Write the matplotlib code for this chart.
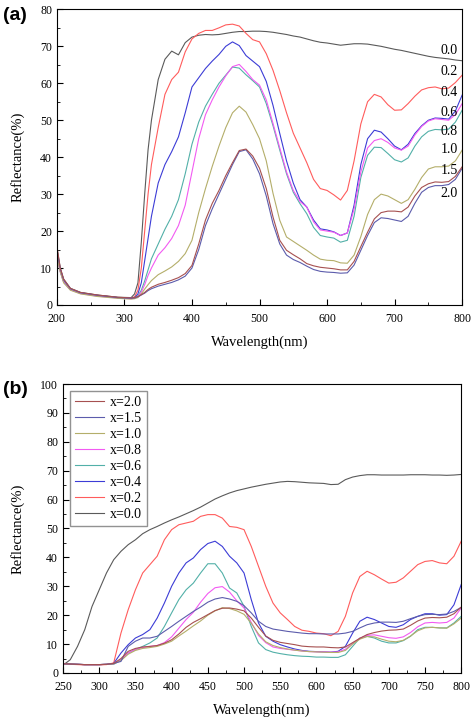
import matplotlib.pyplot as plt
from matplotlib.ticker import MultipleLocator

# ---- panel (a) data ----
wl_a = [200, 205, 210, 220, 235, 260, 290, 310, 315, 320, 325, 330, 335, 340,
        350, 360, 370, 380, 390, 400, 410, 420, 430, 440, 450, 460, 470, 480,
        490, 500, 510, 520, 530, 540, 550, 560, 570, 580, 590, 600, 610, 620,
        630, 640, 650, 660, 670, 680, 690, 700, 710, 720, 730, 740, 750, 760,
        770, 780, 790, 800]

a_00 = [15.5, 10, 7, 4.5, 3.4, 2.7, 2.1, 2.0, 3, 6, 17, 30, 42, 50,
        61, 66.5, 68.7, 67.7, 71, 72.5, 73, 73.2, 73.1, 73.2, 73.5, 73.8, 74, 74,
        74.1, 74.1, 74, 73.8, 73.5, 73.2, 72.8, 72.5, 72, 71.5, 71.1, 70.9, 70.6, 70.3,
        70.5, 70.7, 70.7, 70.6, 70.3, 70, 69.6, 69.2, 68.9, 68.5, 68.1, 67.7, 67.3, 67,
        66.8, 66.6, 66.3, 66.1]
a_02 = [14, 9.5, 6.5, 4.3, 3.3, 2.6, 2.0, 1.9, 2.2, 4, 10, 20, 30, 38,
        48, 57, 61, 63, 68.5, 72, 73.5, 74.3, 74.3, 75, 75.8, 76, 75.5, 73.5,
        71.8, 71.2, 68, 63.5, 58, 52, 46.5, 42.5, 38.5, 34, 31.5, 31, 29.8, 28.4,
        31, 39, 49, 55, 57, 56.3, 54.2, 52.7, 52.8, 54.5, 56.5, 58.2, 58.8, 59,
        58.5, 58.7, 60.2, 62.2]
a_04 = [14, 9.5, 6.5, 4.3, 3.3, 2.6, 2.0, 1.9, 2, 3, 6, 12, 18, 24,
        33, 38, 41.5, 45.5, 52, 59, 61.5, 64, 66, 67.8, 70, 71.2, 70.2, 67.5,
        66, 64.5, 60.5, 54, 46.4, 39, 33, 28.5, 26.5, 23, 20.6, 20.3, 19.8, 18.8,
        19.5, 27, 38, 45, 47.3, 46.8, 45, 43, 42, 43.5, 46.4, 48.5, 50, 50.6,
        50.5, 50.3, 52.5, 56.8]
a_06 = [13.5, 9, 6.3, 4.2, 3.2, 2.5, 2.0, 1.8, 1.9, 2.5, 4, 6.5, 9.5, 12.5,
        16.5, 20.5, 24, 28.5, 35.5, 43.5, 49.5, 53.8, 57, 60, 62.2, 64.4, 64.1, 62.3,
        60.7, 59, 54.5, 48.5, 41.9, 35.5, 30.5, 27.4, 24.7, 21, 18.8, 18.4, 18.1, 17,
        17.5, 24, 34.5, 40.5, 42.7, 42.6, 41, 39.3, 38.7, 39.8, 43, 45.5, 47, 47.5,
        47.4, 47.6, 49.5, 52.7]
a_08 = [13, 9, 6.2, 4.1, 3.1, 2.4, 1.9, 1.7, 1.8, 2.3, 3.5, 5.5, 8, 10,
        13.5, 15.5, 18, 21.5, 27, 36, 45, 51.5, 55.5, 59, 62, 64.5, 65.1, 63.2,
        61, 59.5, 55.5, 49.1, 42.5, 36, 31, 28, 26.5, 22.5, 20.3, 20, 19.7, 18.8,
        19.5, 26, 36, 42.5, 44.5, 45, 44, 42.5, 41.9, 43, 46, 48.3, 49.8, 50.4,
        50.2, 50, 51.5, 54.5]
a_10 = [13, 9, 6, 4, 3, 2.3, 1.8, 1.6, 1.7, 2, 3, 4.3, 5.5, 6.6,
        8.2, 9.2, 10.3, 11.8, 13.9, 17.5, 25, 31.5, 37.5, 43, 48, 52, 53.8, 52.2,
        48.8, 45, 39, 30.2, 22.9, 18.4, 17.2, 16, 14.8, 13.5, 12.4, 12.1, 12, 11.4,
        11.3, 13.5, 18.5, 24.5, 28.5, 30, 29.5, 28.5, 27.5, 28.5, 31.3, 34.5, 36.8, 37.4,
        37.4, 37.6, 39, 41.9]
a_15 = [15, 9.8, 6.8, 4.4, 3.3, 2.6, 2.0, 1.8, 1.9, 2.2, 2.7, 3.2, 3.9, 4.4,
        5.1, 5.6, 6.1, 6.8, 7.8, 10, 15, 21.5, 26, 30, 34, 38, 41.5, 42,
        39.5, 35.5, 29.5, 22, 16.5, 13.5, 12.3, 11.5, 10.5, 9.6, 9.1, 8.9, 8.8, 8.6,
        8.7, 10.8, 14.8, 18.8, 22.3, 23.6, 23.4, 23, 22.6, 24, 27.5, 30.5, 31.8, 32.3,
        32.3, 32.6, 34, 37]
a_20 = [16, 10, 7, 4.5, 3.4, 2.7, 2.1, 1.9, 2, 2.3, 2.8, 3.4, 4.2, 4.8,
        5.6, 6.1, 6.7, 7.4, 8.5, 10.7, 16.5, 23, 27.5, 31, 35, 38.5, 41.8, 42.2,
        40.3, 37, 31.5, 23.8, 17.5, 14.8, 13.6, 12.5, 11.2, 10.6, 10.2, 10, 9.8, 9.5,
        9.5, 11.8, 15.8, 19.7, 23.3, 25, 25.4, 25.4, 25.2, 26.5, 29.5, 31.8, 32.8, 33.3,
        33.2, 33.4, 34.8, 37.4]

# ---- panel (b) data ----
wl_b = list(range(250, 801, 10))

b_00 = [2.7, 4.6, 9.2, 15, 23, 28.8, 34.6, 39.2, 42.1, 44.4, 46.1, 48.2, 49.6, 50.7,
        51.9, 53, 54, 55.1, 56.2, 57.4, 58.8, 60.2, 61.3, 62.3, 63.1, 63.7, 64.3, 64.8,
        65.3, 65.7, 66.1, 66.3, 66.2, 66, 65.8, 65.7, 65.6, 65.2, 65.3, 66.9, 67.8, 68.3,
        68.6, 68.6, 68.5, 68.5, 68.5, 68.5, 68.6, 68.6, 68.6, 68.5, 68.5, 68.4, 68.5, 68.7]
b_02 = [3.2, 3.0, 2.9, 2.8, 2.8, 2.8, 2.9, 3.5, 13.8, 21.9, 28.8, 34.6, 37.5, 40.4,
        46.1, 49.6, 51.3, 51.9, 52.5, 54.2, 54.8, 54.8, 53.6, 50.7, 50.4, 49.6, 43.8, 36.9,
        30, 24.2, 20.8, 18.5, 16.1, 14.8, 14.4, 13.8, 13.6, 12.9, 14.4, 19.6, 27.7, 33.4,
        35.2, 34, 32.5, 31.1, 31.4, 32.9, 35.2, 37.5, 38.6, 38.9, 38.1, 37.8, 40.4, 45.6]
b_04 = [3.2, 3.1, 3.0, 2.9, 2.9, 2.9, 3.0, 3.3, 6.9, 9.8, 12.1, 13.3, 15, 19,
        24.2, 30, 34.6, 38.1, 39.8, 42.7, 44.8, 45.6, 43.8, 40.4, 38.1, 34.6, 25.4, 17.3,
        12.7, 11, 9.8, 9, 8.3, 7.8, 7.5, 7.4, 7.3, 7.2, 7.5, 9.2, 13.8, 17.9,
        19.3, 18.5, 17.3, 16.1, 15.8, 16.7, 18.5, 19.6, 20.5, 20.5, 20, 20.2, 23.6, 30.6]
b_06 = [3.2, 3.1, 3.0, 2.9, 2.9, 2.9, 3.0, 3.0, 4.5, 6.9, 8.1, 9.2, 10.4, 12.1,
        16.1, 20.8, 25.4, 28.8, 31.1, 34.6, 37.8, 37.8, 34.6, 29.4, 27.7, 23.1, 16.1, 10.4,
        8.1, 7.2, 6.7, 6.3, 6, 5.8, 5.7, 5.5, 5.5, 5.4, 5.4, 6.3, 9.2, 12.1,
        12.7, 12.1, 11, 10.4, 10.4, 11.2, 12.7, 15, 15.8, 15.8, 15.6, 15.6, 17.3, 19.6]
b_08 = [3.2, 3.1, 3.0, 2.9, 2.9, 2.9, 3.0, 3.2, 4.5, 7, 8.1, 8.8, 9.2, 9.5,
        10.5, 12.5, 15.5, 18.5, 21, 24.5, 27.5, 29.5, 29.9, 28, 25, 22.5, 17.5, 13,
        10.5, 9, 8.5, 8.2, 7.9, 7.6, 7.4, 7.3, 7.3, 7.2, 7.3, 8.2, 10.3, 12,
        13, 13.2, 12.7, 12.2, 12, 12.5, 14, 16, 17.3, 17.5, 17.3, 17.5, 19, 22.5]
b_10 = [3.2, 3.1, 3.0, 2.9, 2.9, 2.9, 3.0, 3.2, 4.3, 6.5, 7.8, 8.5, 8.8, 9.2,
        10, 11, 12.8, 14.5, 16.3, 18, 20, 21.5, 22.6, 22.3, 21.5, 20.3, 17.2, 13.5,
        10.8, 9.5, 8.8, 8.3, 7.9, 7.6, 7.4, 7.3, 7.2, 7.1, 7.1, 7.8, 10, 11.7,
        12.6, 12.5, 11.7, 11, 10.8, 11.3, 12.8, 14.6, 15.6, 15.8, 15.6, 15.5, 17, 19]
b_15 = [3.2, 3.1, 3.0, 2.9, 2.9, 2.9, 3.0, 3.3, 4, 9.2, 11, 12.1, 12.1, 12.7,
        14.4, 16.1, 17.9, 19.6, 21.3, 22.8, 24.5, 25.6, 26.1, 25.6, 24.8, 23.3, 20.8, 17.9,
        16.1, 15.2, 14.8, 14.4, 14.1, 13.8, 13.6, 13.6, 13.5, 13.5, 13.5, 13.8, 14.4, 15.6,
        16.7, 17.3, 17.6, 17.6, 17.5, 17.9, 18.8, 19.6, 20.2, 20.3, 20.2, 20.4, 21.3, 22.7]
b_20 = [3.2, 3.1, 3.0, 2.9, 2.9, 2.9, 3.0, 3.3, 5, 7.5, 8.5, 9, 9.2, 9.5,
        10.3, 11.5, 13.5, 15.8, 17.5, 18.8, 20.2, 21.6, 22.4, 22.5, 22.1, 21.5, 19, 15.8,
        12.8, 11.3, 10.6, 10.2, 9.8, 9.3, 9.1, 9, 9, 8.8, 8.7, 9, 10.5, 12,
        13.3, 14, 14.5, 14.8, 14.9, 15.2, 16.5, 18, 19, 19.2, 19.1, 19.3, 20.5, 22.8]

x_values = ['0.0', '0.2', '0.4', '0.6', '0.8', '1.0', '1.5', '2.0']
colors = ['#5a5a5a', '#ff5c5c', '#3c3cd6', '#52b0a8', '#f25af2', '#b4ae6a', '#5c5cac', '#a65050']
label_y_a = [68.9, 63.1, 57.5, 52, 46.9, 42.2, 36.5, 30.2]

plt.rcParams['font.family'] = ['Liberation Serif', 'DejaVu Serif']

fig = plt.figure(figsize=(4.74, 7.21), dpi=100)

# ---------- (a) ----------
ax1 = fig.add_axes([0.120, 0.577, 0.855, 0.410])
series_a = [a_00, a_02, a_04, a_06, a_08, a_10, a_15, a_20]
for ys, c in zip(series_a, colors):
    ax1.plot(wl_a, ys, color=c, lw=0.8)
for lab, ly in zip(x_values, label_y_a):
    ax1.text(781, ly, lab, ha='center', va='center', fontsize=10)
ax1.set_xlim(200, 800)
ax1.set_ylim(0, 80)
ax1.xaxis.set_major_locator(MultipleLocator(100))
ax1.xaxis.set_minor_locator(MultipleLocator(50))
ax1.yaxis.set_major_locator(MultipleLocator(10))
ax1.yaxis.set_minor_locator(MultipleLocator(5))
ax1.set_xlabel('Wavelength(nm)', fontsize=10.5, labelpad=7)
ax1.set_ylabel('Reflectance(%)', fontsize=10.5, labelpad=11)
ax1.text(-0.133, 0.98, '(a)', transform=ax1.transAxes, fontsize=14,
         fontweight='bold', family='Liberation Sans', va='center', ha='left')

# ---------- (b) ----------
ax2 = fig.add_axes([0.133, 0.0666, 0.840, 0.4008])
series_b = [b_00, b_02, b_04, b_06, b_08, b_10, b_15, b_20]
lines = []
for ys, c, xv in zip(series_b, colors, x_values):
    ln, = ax2.plot(wl_b, ys, color=c, lw=0.8, label='x=' + xv)
    lines.append(ln)
ax2.legend(handles=lines[::-1], loc='upper left', fontsize=10, frameon=True,
           fancybox=False, edgecolor='#777777', handlelength=2.1,
           borderaxespad=0.5, borderpad=0.35, labelspacing=0.22, handletextpad=0.4)
ax2.set_xlim(250, 800)
ax2.set_ylim(0, 100)
ax2.xaxis.set_major_locator(MultipleLocator(50))
ax2.xaxis.set_minor_locator(MultipleLocator(25))
ax2.yaxis.set_major_locator(MultipleLocator(10))
ax2.yaxis.set_minor_locator(MultipleLocator(5))
ax2.set_xlabel('Wavelength(nm)', fontsize=10.5, labelpad=7)
ax2.set_ylabel('Reflectance(%)', fontsize=10.5, labelpad=11)
ax2.text(-0.151, 0.98, '(b)', transform=ax2.transAxes, fontsize=14,
         fontweight='bold', family='Liberation Sans', va='center', ha='left')

for ax in (ax1, ax2):
    ax.tick_params(which='both', direction='in', top=False, right=False, labelsize=8.5)
    ax.tick_params(which='major', length=4)
    ax.tick_params(which='minor', length=2)
    ax.tick_params(axis='x', pad=6)

fig.savefig('out.png', dpi=100)
plt.close(fig)
